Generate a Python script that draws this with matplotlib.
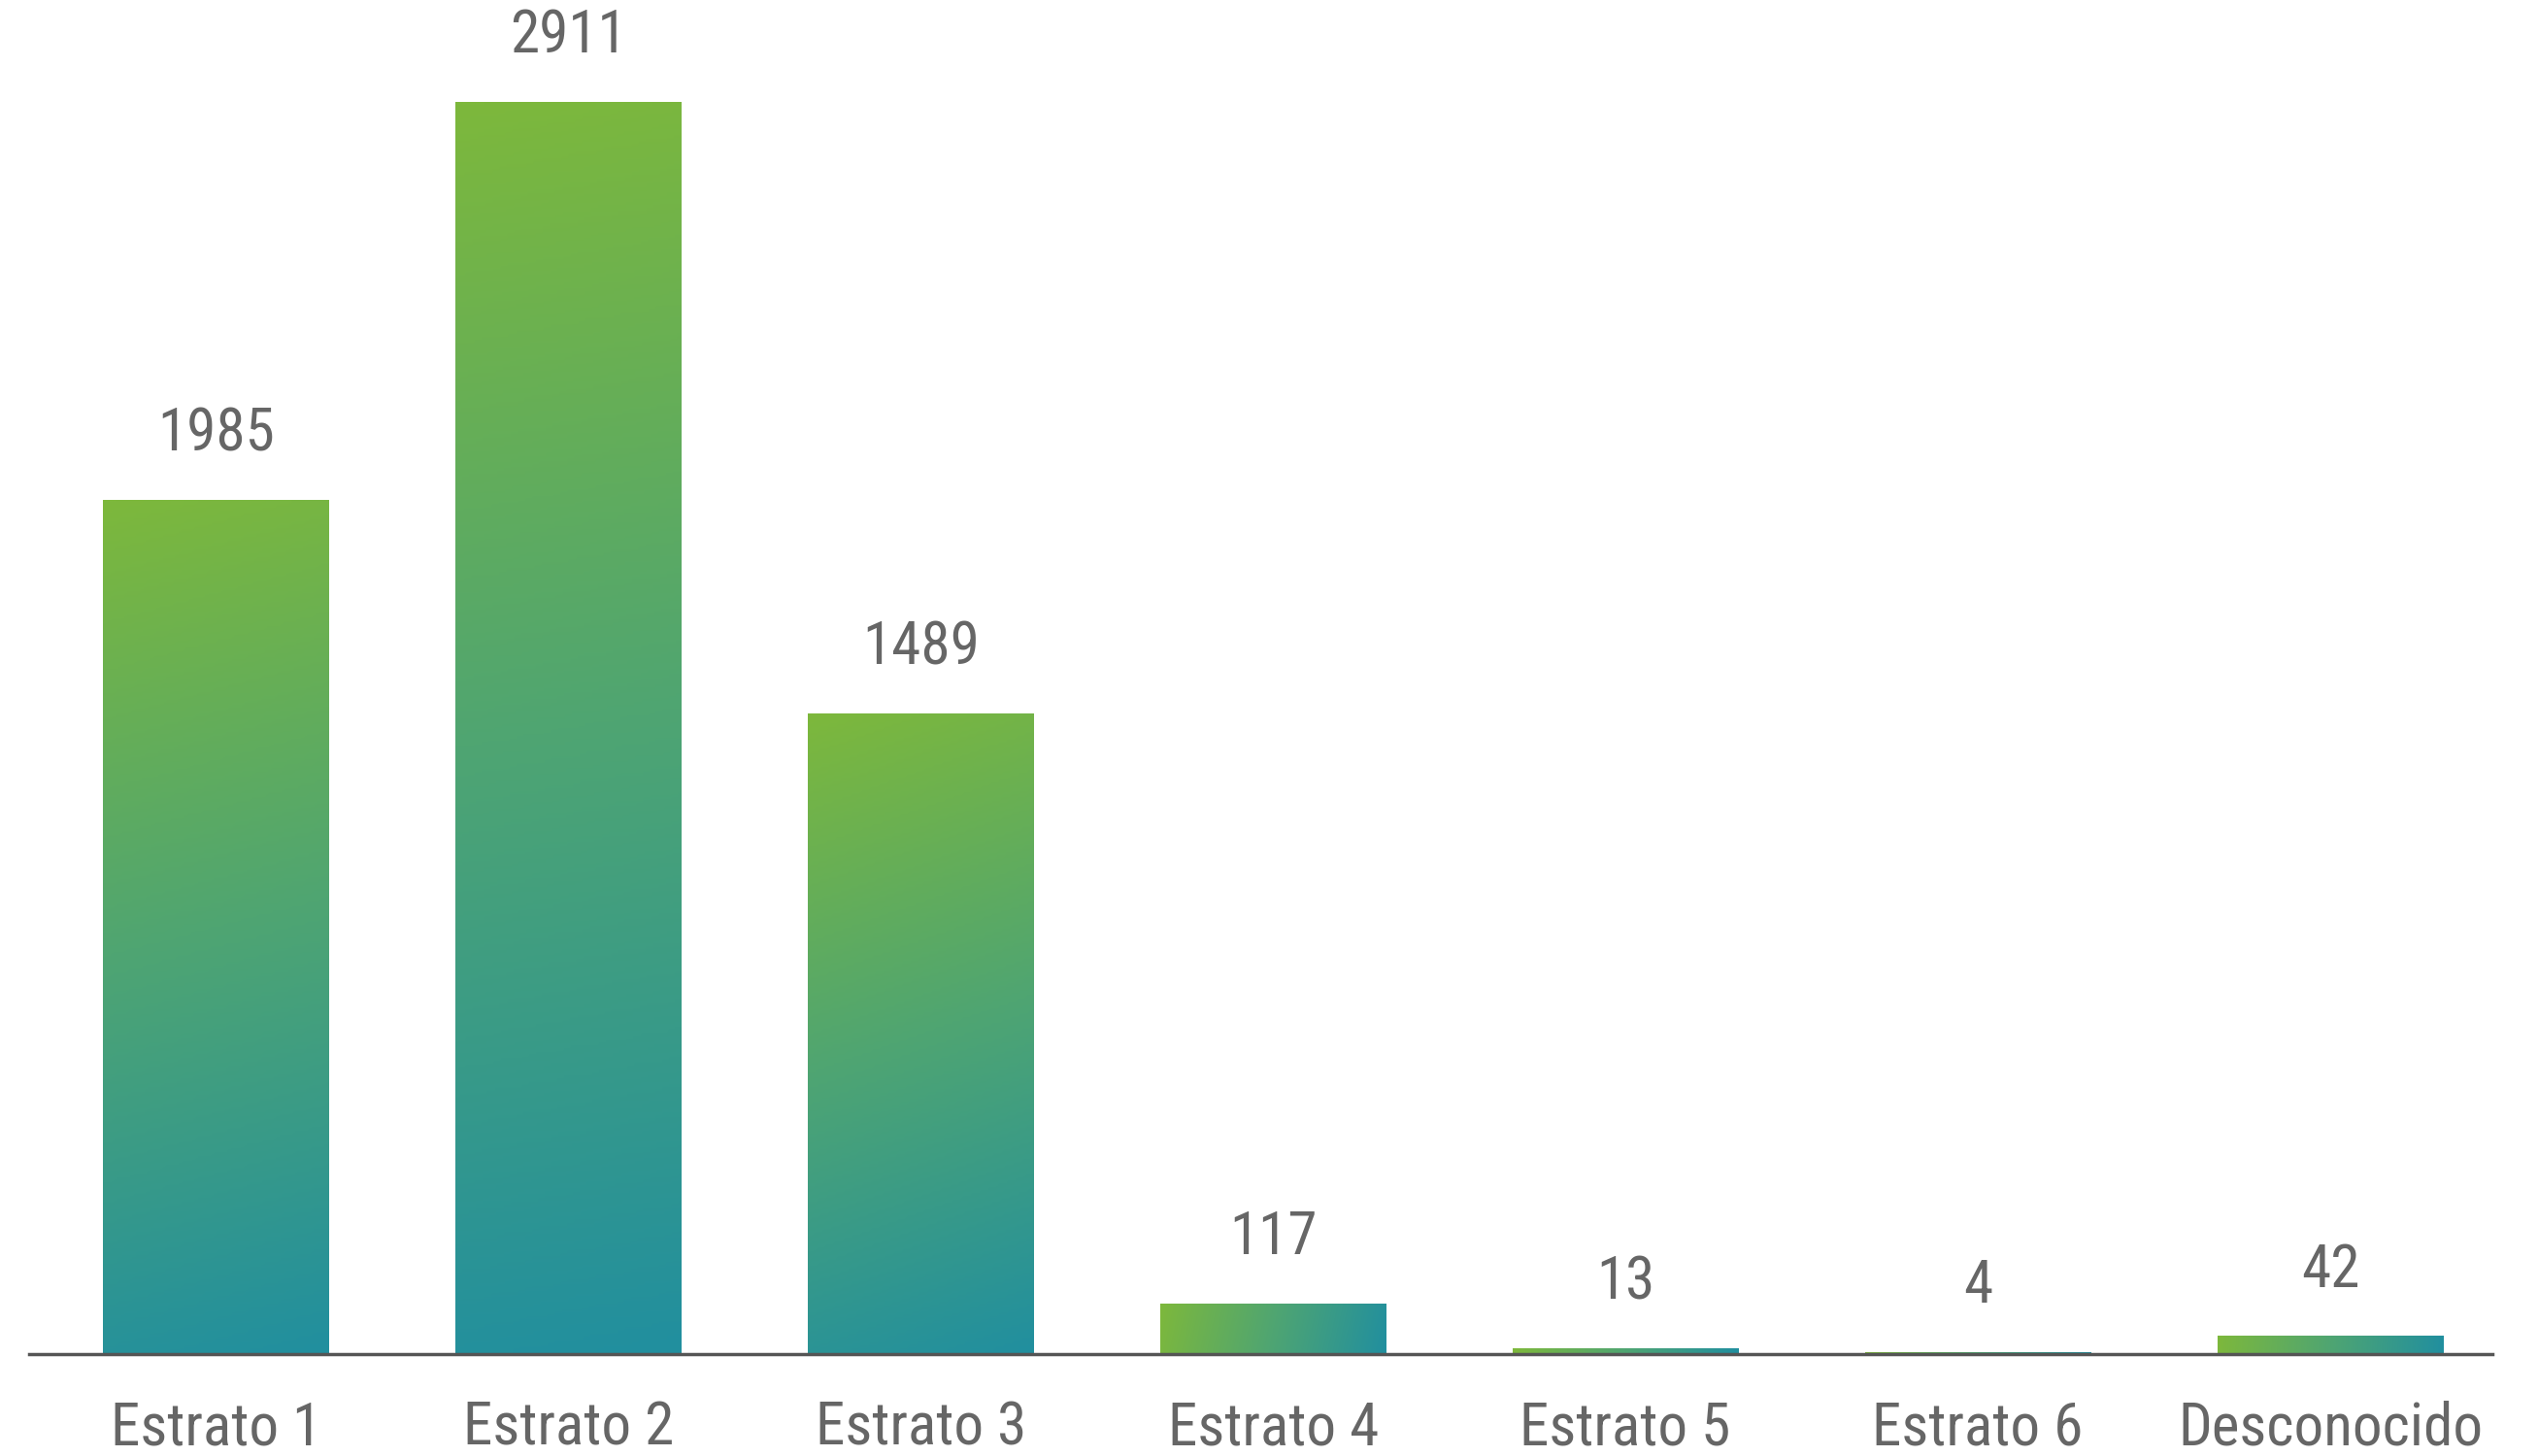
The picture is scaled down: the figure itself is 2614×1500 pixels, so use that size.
import matplotlib
matplotlib.use("Agg")
import matplotlib.pyplot as plt
import numpy as np
from matplotlib.colors import LinearSegmentedColormap
from matplotlib import font_manager

categories = ["Estrato 1", "Estrato 2", "Estrato 3", "Estrato 4", "Estrato 5", "Estrato 6", "Desconocido"]
values = [1985, 2911, 1489, 117, 13, 4, 42]

names = {f.name for f in font_manager.fontManager.ttflist}
fam = [f for f in ["Liberation Sans Narrow", "Roboto Condensed", "Open Sans Condensed", "Roboto", "DejaVu Sans"] if f in names]
plt.rcParams['font.family'] = fam

TXT = "#666666"
cmap = LinearSegmentedColormap.from_list("g", ["#7db83c", "#4fa572", "#218f9f"])

W_PX, H_PX = 2614, 1500
fig = plt.figure(figsize=(W_PX / 100, H_PX / 100), dpi=100)
ax = fig.add_axes([30 / W_PX, 1 - 1395 / H_PX, (2567 - 30) / W_PX, (1395 - 20) / H_PX])

xmin, xmax = -0.53, 6.46
ymin, ymax = 0, 3103
ax.set_xlim(xmin, xmax)
ax.set_ylim(ymin, ymax)

bw = 0.64
ax_w_px = (2567 - 30)
ax_h_px = (1395 - 20)
x = np.arange(len(categories))

for xi, v in zip(x, values):
    x0 = xi - bw / 2
    Wp = bw / (xmax - xmin) * ax_w_px
    Hp = max(v / (ymax - ymin) * ax_h_px, 1.0)
    nx, ny = 200, 200
    u = np.linspace(0, 1, nx)[None, :]
    s = np.linspace(0, 1, ny)[:, None]  # 0 top -> 1 bottom
    t = (u * Wp ** 2 + s * Hp ** 2) / (Wp ** 2 + Hp ** 2)
    ax.imshow(t, cmap=cmap, vmin=0, vmax=1, extent=[x0, x0 + bw, 0, v],
              origin="upper", aspect="auto", interpolation="bilinear", zorder=2)
    ax.annotate(str(v), xy=(xi, v), xytext=(0, 28), textcoords="offset points",
                ha="center", va="bottom", fontsize=44, color=TXT, zorder=4)

ax.set_xlim(xmin, xmax)
ax.set_ylim(ymin, ymax)

for sp in ["top", "right", "left"]:
    ax.spines[sp].set_visible(False)
ax.spines["bottom"].set_color("#555555")
ax.spines["bottom"].set_linewidth(2.5)
ax.spines["bottom"].set_zorder(5)
ax.set_yticks([])
ax.set_xticks(x)
ax.set_xticklabels(categories, fontsize=44, color=TXT)
ax.tick_params(axis="x", length=0, pad=34)

fig.savefig("out.png", dpi=100, facecolor="white")
